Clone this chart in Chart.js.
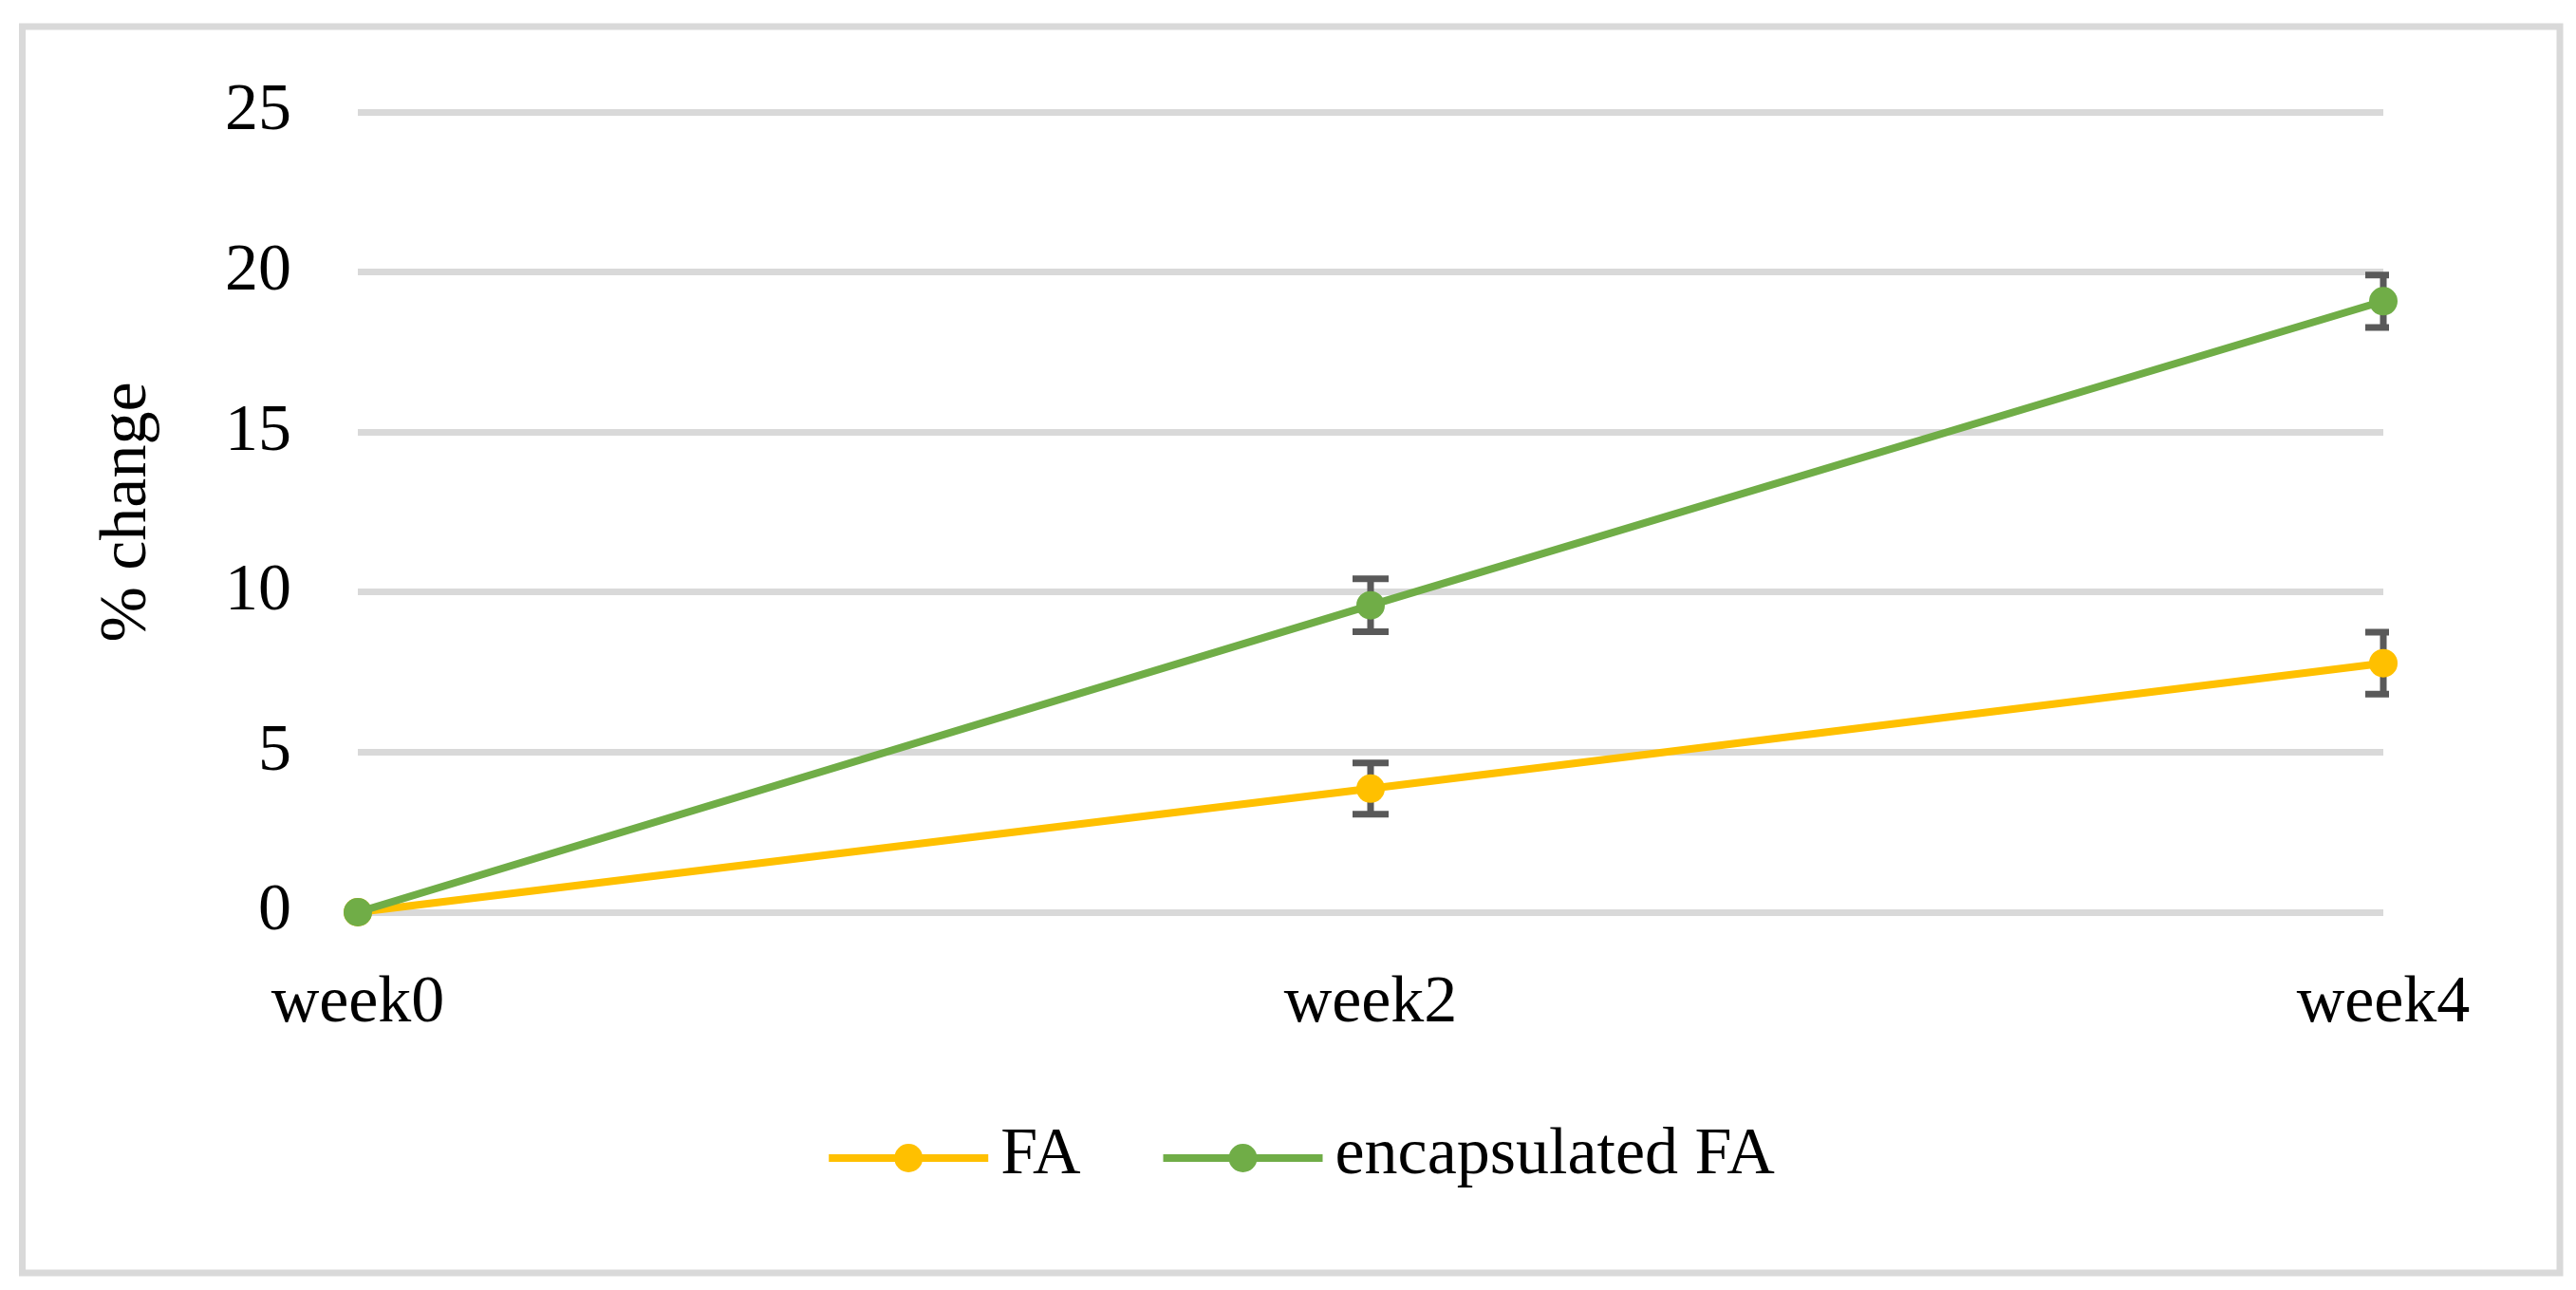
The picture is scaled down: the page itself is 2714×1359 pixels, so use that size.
<!DOCTYPE html>
<html>
<head>
<meta charset="utf-8">
<script src="https://cdn.jsdelivr.net/npm/chart.js@4.4.1/dist/chart.umd.min.js"></script>
<style>
  html, body { margin: 0; padding: 0; background: #fff; }
  #wrap { position: relative; width: 2714px; height: 1359px; }
</style>
</head>
<body>
<div id="wrap"><canvas id="grafico"></canvas></div>
<script>
// datos
const semanas = ["week0", "week2", "week4"];
const valoresFA = [0, 3.86, 7.78];
const erroresFA = [0, 0.80, 0.97];
const valoresEncap = [0, 9.59, 19.09];
const erroresEncap = [0, 0.83, 0.82];
const ticksY = [0, 5, 10, 15, 20, 25];

const FONT_FAMILY = "'Liberation Serif', 'Times New Roman', serif";
const FONT_SIZE = 70;
const AMARILLO = "#FFC000";
const VERDE = "#70AD47";
const GRIS = "#D9D9D9";

// marco gris alrededor del gráfico
const marcoPlugin = {
  id: "marco",
  beforeDraw(chart) {
    const ctx = chart.ctx;
    ctx.save();
    ctx.fillStyle = "#fff";
    ctx.fillRect(0, 0, chart.width, chart.height);
    ctx.strokeStyle = GRIS;
    ctx.lineWidth = 7;
    ctx.strokeRect(23.5, 28, 2673.5, 1313);
    ctx.restore();
  }
};

// barras de error (debajo de las líneas)
const barrasErrorPlugin = {
  id: "barrasError",
  beforeDatasetsDraw(chart) {
    const ctx = chart.ctx;
    const x = chart.scales.x, y = chart.scales.y;
    const area = chart.chartArea;
    ctx.save();
    ctx.beginPath();
    ctx.rect(area.left - 30, area.top - 30, area.right - area.left + 36, area.bottom - area.top + 60);
    ctx.clip();
    ctx.strokeStyle = "#595959";
    ctx.lineWidth = 7;
    chart.data.datasets.forEach(ds => {
      ds.data.forEach((v, i) => {
        const e = ds.errores[i];
        if (!e) return;
        const px = x.getPixelForValue(i);
        const yTop = y.getPixelForValue(v + e);
        const yBot = y.getPixelForValue(v - e);
        ctx.beginPath();
        ctx.moveTo(px, yTop); ctx.lineTo(px, yBot);
        ctx.moveTo(px - 19, yTop); ctx.lineTo(px + 19, yTop);
        ctx.moveTo(px - 19, yBot); ctx.lineTo(px + 19, yBot);
        ctx.stroke();
      });
    });
    ctx.restore();
  }
};

// leyenda inferior: línea con marcador + texto
const leyendaPlugin = {
  id: "leyenda",
  afterDraw(chart) {
    const ctx = chart.ctx;
    const largo = 168, hueco = 13, separacion = 87, yc = 1220;
    ctx.save();
    ctx.font = FONT_SIZE + "px " + FONT_FAMILY;
    const anchos = chart.data.datasets.map(ds => ctx.measureText(ds.label).width);
    let total = 0;
    anchos.forEach((w, i) => { total += largo + hueco + w + (i ? separacion : 0); });
    let x = 1371.5 - total / 2;
    chart.data.datasets.forEach((ds, i) => {
      ctx.strokeStyle = ds.borderColor;
      ctx.lineWidth = 8;
      ctx.beginPath();
      ctx.moveTo(x, yc); ctx.lineTo(x + largo, yc);
      ctx.stroke();
      ctx.fillStyle = ds.borderColor;
      ctx.beginPath();
      ctx.arc(x + largo / 2, yc, 15, 0, Math.PI * 2);
      ctx.fill();
      ctx.fillStyle = "#000";
      ctx.textBaseline = "middle";
      ctx.textAlign = "left";
      ctx.fillText(ds.label, x + largo + hueco, yc - 2);
      x += largo + hueco + anchos[i] + separacion;
    });
    ctx.restore();
  }
};

function serie(label, datos, errores, color, orden) {
  return {
    label,
    data: datos,
    errores,
    borderColor: color,
    backgroundColor: color,
    borderWidth: 8,
    pointRadius: 15,
    pointBorderWidth: 0,
    pointBackgroundColor: color,
    tension: 0,
    clip: false,
    order: orden
  };
}

new Chart(document.getElementById("grafico").getContext("2d"), {
  type: "line",
  data: {
    labels: semanas,
    datasets: [
      serie("FA", valoresFA, erroresFA, AMARILLO, 2),
      serie("encapsulated FA", valoresEncap, erroresEncap, VERDE, 1)
    ]
  },
  options: {
    responsive: true,
    maintainAspectRatio: false,
    devicePixelRatio: 1,
    animation: false,
    layout: { padding: { top: 118, right: 203, left: 85, bottom: 204 } },
    plugins: {
      legend: { display: false },
      tooltip: { enabled: false }
    },
    scales: {
      x: {
        offset: false,
        grid: { display: false, drawTicks: false },
        border: { display: false },
        ticks: { padding: 55, color: "#000", font: { family: FONT_FAMILY, size: FONT_SIZE } }
      },
      y: {
        min: ticksY[0],
        max: ticksY[ticksY.length - 1],
        afterBuildTicks: (s) => { s.ticks = ticksY.map(v => ({ value: v })); },
        afterFit: (s) => { s.width = 292; },
        grid: { color: GRIS, lineWidth: 7, drawTicks: false },
        border: { display: false },
        ticks: { padding: 70, color: "#000", font: { family: FONT_FAMILY, size: FONT_SIZE } },
        title: {
          display: true,
          text: "% change",
          color: "#000",
          padding: { top: 8, bottom: 0 },
          font: { family: FONT_FAMILY, size: FONT_SIZE }
        }
      }
    }
  },
  plugins: [marcoPlugin, barrasErrorPlugin, leyendaPlugin]
});
</script>
</body>
</html>
